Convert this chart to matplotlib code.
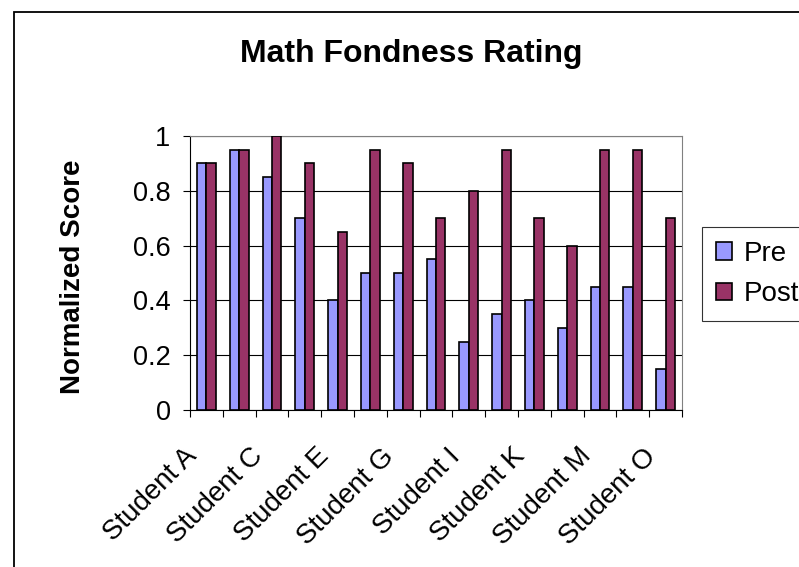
import numpy as np
import matplotlib
matplotlib.use('Agg')
import matplotlib.pyplot as plt
import matplotlib.transforms as mtransforms
from matplotlib.patches import Rectangle

students = ['Student ' + c for c in 'ABCDEFGHIJKLMNO']
pre = [0.9, 0.95, 0.85, 0.7, 0.4, 0.5, 0.5, 0.55, 0.25, 0.35, 0.4, 0.3, 0.45, 0.45, 0.15]
post = [0.9, 0.95, 1.0, 0.9, 0.65, 0.95, 0.9, 0.7, 0.8, 0.95, 0.7, 0.6, 0.95, 0.95, 0.7]
y_ticks = [0, 0.2, 0.4, 0.6, 0.8, 1]
y_tick_labels = ['0', '0.2', '0.4', '0.6', '0.8', '1']

plt.rcParams['font.family'] = ['Liberation Sans', 'DejaVu Sans']

W, H = 799, 567
fig = plt.figure(figsize=(W / 100, H / 100), dpi=100)

def px(x0, y0, x1, y1):
    # pixel box -> figure fraction rect
    return [x0 / W, 1 - y1 / H, (x1 - x0) / W, (y1 - y0) / H]

ax = fig.add_axes(px(190, 136, 682, 410))

x = np.arange(len(students))
w = 1 / 3.5
ax.bar(x - w / 2, pre, w, color='#9999FF', edgecolor='black', linewidth=1.2, label='Pre', zorder=3)
ax.bar(x + w / 2, post, w, color='#993366', edgecolor='black', linewidth=1.2, label='Post', zorder=3)

ax.set_xlim(-0.5, len(students) - 0.5)
ax.set_ylim(0, 1)
ax.set_yticks(y_ticks, y_tick_labels)
ax.yaxis.grid(True, color='black', linewidth=0.8, zorder=0)
ax.tick_params(axis='y', direction='out', length=5, width=0.8, labelsize=19.5, pad=9)

# ticks at category boundaries, labels on every other category
ax.set_xticks(np.arange(len(students) + 1) - 0.5)
ax.tick_params(axis='x', which='major', direction='out', length=5, width=0.8, labelbottom=False)
ax.set_xticks(x[::2], students[::2], minor=True)
ax.tick_params(axis='x', which='minor', length=0, pad=32, labelsize=20)
shift = mtransforms.ScaledTranslation(-0.13, 0.02, fig.dpi_scale_trans)
for lab in ax.get_xticklabels(minor=True):
    lab.set_rotation(45)
    lab.set_rotation_mode('anchor')
    lab.set_ha('right')
    lab.set_va('center')
    lab.set_transform(lab.get_transform() + shift)

for s in ['top', 'right']:
    ax.spines[s].set_color('#808080')
for s in ['left', 'bottom']:
    ax.spines[s].set_color('black')

fig.text(411 / W, 1 - 62 / H, 'Math Fondness Rating', ha='center', va='baseline',
         fontsize=23, fontweight='bold')
fig.text(73 / W, 1 - 277 / H, 'Normalized Score', ha='center', va='center',
         rotation=90, fontsize=20, fontweight='bold')

leg = fig.legend(loc='upper left', bbox_to_anchor=(702 / W, 1 - 227 / H), fontsize=20,
                 frameon=True, fancybox=False, edgecolor='black', borderpad=0.5,
                 handlelength=0.58, handleheight=0.58, handletextpad=0.42, labelspacing=0.52,
                 borderaxespad=0)
leg.get_frame().set_linewidth(0.8)

fig.patches.append(Rectangle((14 / W, -0.1), 1.2, 1 - 12 / H + 0.1, transform=fig.transFigure,
                             fill=False, edgecolor='black', linewidth=1.3))

fig.savefig('out.png', dpi=100)
